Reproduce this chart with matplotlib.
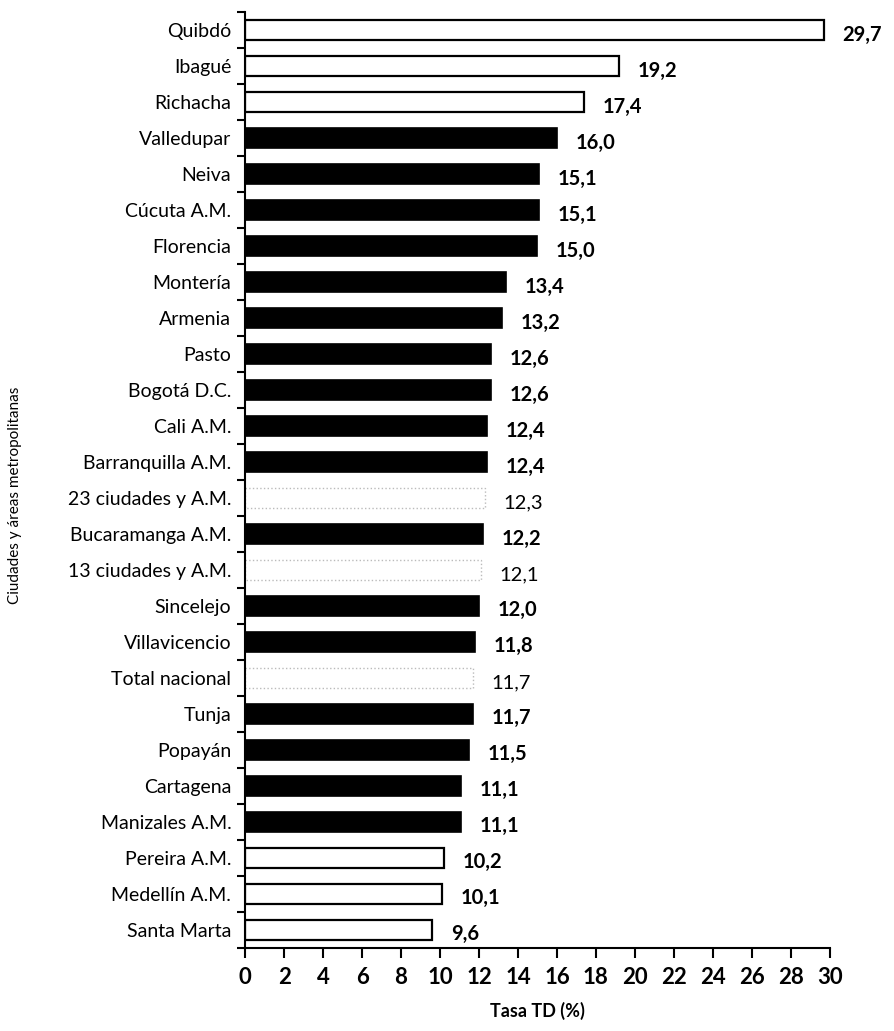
import matplotlib
matplotlib.use('Agg')
from matplotlib import pyplot as plt
import numpy as np

plt.rcParams['font.family'] = ['Lato', 'DejaVu Sans']

cities = ['Quibdó', 'Ibagué', 'Richacha', 'Valledupar', 'Neiva', 'Cúcuta A.M.',
          'Florencia', 'Montería', 'Armenia', 'Pasto', 'Bogotá D.C.', 'Cali A.M.',
          'Barranquilla A.M.', '23 ciudades y A.M.', 'Bucaramanga A.M.',
          '13 ciudades y A.M.', 'Sincelejo', 'Villavicencio', 'Total nacional',
          'Tunja', 'Popayán', 'Cartagena', 'Manizales A.M.', 'Pereira A.M.',
          'Medellín A.M.', 'Santa Marta']
rates = [29.7, 19.2, 17.4, 16.0, 15.1, 15.1, 15.0, 13.4, 13.2, 12.6, 12.6, 12.4,
         12.4, 12.3, 12.2, 12.1, 12.0, 11.8, 11.7, 11.7, 11.5, 11.1, 11.1, 10.2,
         10.1, 9.6]
# 'w' = white bar with black edge, 'k' = black bar, 'a' = aggregate (white, faint edge)
kind = ['w', 'w', 'w', 'k', 'k', 'k', 'k', 'k', 'k', 'k', 'k', 'k', 'k', 'a',
        'k', 'a', 'k', 'k', 'a', 'k', 'k', 'k', 'k', 'w', 'w', 'w']

fig = plt.figure(figsize=(8.95, 10.31), dpi=100)
ax = fig.add_axes([0.274, 0.0805, 0.653, 0.9075])

y = np.arange(len(cities))
for i, (v, k) in enumerate(zip(rates, kind)):
    if k == 'k':
        ax.barh(i, v, height=0.56, color='black', edgecolor='black', lw=1.2)
    elif k == 'w':
        ax.barh(i, v, height=0.56, color='white', edgecolor='black', lw=1.6)
    else:
        ax.barh(i, v, height=0.56, color='white', edgecolor='#bbbbbb', lw=1.0,
                linestyle=':')
    weight = 'normal' if k == 'a' else 'bold'
    ax.text(v + 0.95, i + 0.12, f'{v:.1f}'.replace('.', ','), va='center',
            ha='left', fontsize=14.5, fontweight=weight)

ax.set_ylim(len(cities) - 0.5, -0.5)
ax.set_xlim(0, 30)
ax.set_yticks(y)
ax.set_yticklabels(cities, fontsize=14)
ax.tick_params(axis='y', which='major', length=0, pad=10)
ax.set_yticks(np.arange(-0.5, len(cities), 1), minor=True)
ax.tick_params(axis='y', which='minor', length=6, width=1.5, direction='out')
ax.set_xticks(np.arange(0, 31, 2))
ax.tick_params(axis='x', length=7, width=1.5, direction='out', labelsize=16, pad=7)
for lab in ax.get_xticklabels():
    lab.set_fontweight('bold')
ax.spines['top'].set_visible(False)
ax.spines['right'].set_visible(False)
ax.spines['left'].set_linewidth(1.5)
ax.spines['bottom'].set_linewidth(1.5)
ax.set_xlabel('Tasa TD (%)', fontsize=13, fontweight='bold', labelpad=10)
fig.text(0.017, 0.52, 'Ciudades y áreas metropolitanas', rotation=90,
         va='center', ha='center', fontsize=11)

fig.savefig('out.png', dpi=100)
